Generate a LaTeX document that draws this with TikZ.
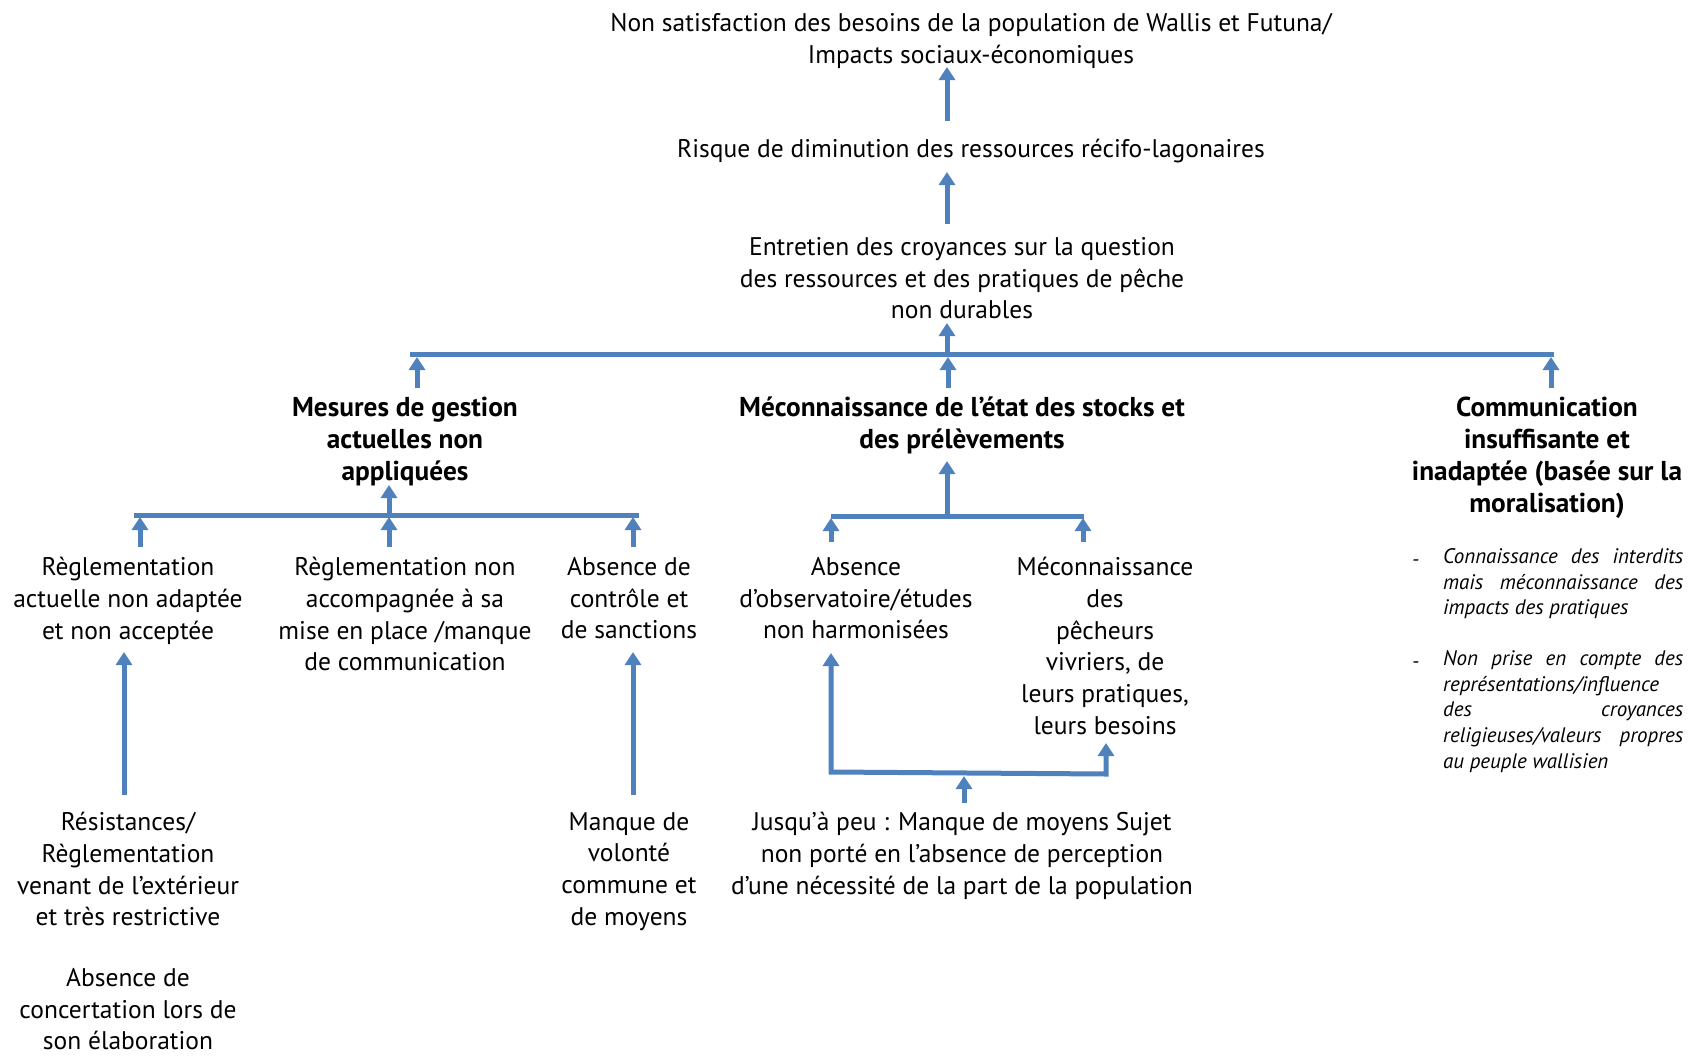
\documentclass[tikz,border=0pt]{standalone}
\usepackage{fontspec}
\setmainfont{PT Sans}
\usetikzlibrary{arrows.meta}
\definecolor{arrblue}{RGB}{79,129,189}
\tikzset{
  txt/.style={align=center, inner sep=0pt, anchor=north, font=\fontsize{25.5}{31.8}\selectfont, execute at begin node=\strut},
  btxt/.style={txt, font=\fontsize{27.3}{31.8}\selectfont\bfseries},
  itxt/.style={align=left, inner sep=0pt, anchor=north west, font=\fontsize{21}{25.9}\selectfont\itshape, execute at begin node=\strut},
  arr/.style={draw=arrblue, line width=5pt, -{Triangle[width=16pt,length=13pt]}},
  barline/.style={draw=arrblue, line width=5pt},
  dbl/.style={draw=arrblue, line width=5pt, {Triangle[width=16pt,length=13pt]}-{Triangle[width=16pt,length=13pt]}}
}
\newcommand{\jl}[1]{\makebox[240pt][s]{#1}}
\begin{document}
\begin{tikzpicture}[x=1pt,y=-1pt]
\useasboundingbox (0,0) rectangle (1689,1058);

% texts
\node[txt] (top) at (971,13) {Non satisfaction des besoins de la population de Wallis et Futuna/\\Impacts sociaux-économiques};
\node[txt] (risque) at (971,135) {Risque de diminution des ressources récifo-lagonaires};
\node[txt] (entretien) at (962,237) {Entretien des croyances sur la question\\des ressources et des pratiques de pêche\\non durables};
\node[btxt] (mesures) at (405,397) {Mesures de gestion\\actuelles non\\appliquées};
\node[btxt] (meconn) at (962,397) {Méconnaissance de l’état des stocks et\\des prélèvements};
\node[btxt] (comm) at (1547,397) {Communication\\insuffisante et\\inadaptée (basée sur la\\moralisation)};
\node[txt] (regl1) at (128,557) {Règlementation\\actuelle non adaptée\\et non acceptée};
\node[txt] (regl2) at (405,557) {Règlementation non\\accompagnée à sa\\mise en place /manque\\de communication};
\node[txt] (abscontrole) at (629,557) {Absence de\\contrôle et\\de sanctions};
\node[txt] (absobs) at (856,557) {Absence\\d’observatoire/études\\non harmonisées};
\node[txt] (mecpech) at (1105,557) {Méconnaissance\\des\\pêcheurs\\vivriers, de\\leurs pratiques,\\leurs besoins};
\node[txt] (resist) at (128,812) {Résistances/\\Règlementation\\venant de l’extérieur\\et très restrictive};
\node[txt] (concert) at (128,968) {Absence de\\concertation lors de\\son élaboration};
\node[txt] (manque) at (629,812) {Manque de\\volonté\\commune et\\de moyens};
\node[txt] (jusqua) at (962,812) {Jusqu’à peu : Manque de moyens Sujet\\non porté en l’absence de perception\\d’une nécessité de la part de la population};

\node[itxt] (dash1) at (1412,548) {-};
\node[itxt] (p1) at (1443,548) {\jl{Connaissance des interdits}\\\jl{mais méconnaissance des}\\impacts des pratiques};
\node[itxt] (dash2) at (1412,650) {-};
\node[itxt] (p2) at (1443,650) {\jl{Non prise en compte des}\\représentations/influence\\\jl{des croyances}\\\jl{religieuses/valeurs\ \ propres}\\au peuple wallisien};

% coordinates
\coordinate (a1s) at (947,121); \coordinate (a1e) at (947,67);
\coordinate (a2s) at (947,224); \coordinate (a2e) at (947,172);
\coordinate (a3s) at (947,354); \coordinate (a3e) at (947,323);
\coordinate (b1l) at (410,354); \coordinate (b1r) at (1554,354);
\coordinate (a4s) at (417,388); \coordinate (a4e) at (417,357);
\coordinate (a5s) at (948,388); \coordinate (a5e) at (948,357);
\coordinate (a6s) at (1551,388); \coordinate (a6e) at (1551,357);
\coordinate (a7s) at (389,515); \coordinate (a7e) at (389,485);
\coordinate (b2l) at (134,515); \coordinate (b2r) at (639,515);
\coordinate (a8s) at (140,547); \coordinate (a8e) at (140,517);
\coordinate (a9s) at (389,547); \coordinate (a9e) at (389,517);
\coordinate (a10s) at (633,547); \coordinate (a10e) at (633,517);
\coordinate (a11s) at (947,516); \coordinate (a11e) at (947,461);
\coordinate (b3l) at (831,516); \coordinate (b3r) at (1084,516);
\coordinate (a12s) at (831,542); \coordinate (a12e) at (831,518);
\coordinate (a13s) at (1083,542); \coordinate (a13e) at (1083,518);
\coordinate (a14s) at (124,795); \coordinate (a14e) at (124,652);
\coordinate (a15s) at (633,795); \coordinate (a15e) at (633,652);
\coordinate (brl) at (831,772); \coordinate (brr) at (1106,774);
\coordinate (brlt) at (831,653); \coordinate (brrt) at (1106,743);
\coordinate (a16s) at (964,803); \coordinate (a16e) at (964,776);

% connectors
\draw[arr] (a1s) -- (a1e);
\draw[arr] (a2s) -- (a2e);
\draw[arr] (a3s) -- (a3e);
\draw[barline] (b1l) -- (b1r);
\draw[arr] (a4s) -- (a4e);
\draw[arr] (a5s) -- (a5e);
\draw[arr] (a6s) -- (a6e);
\draw[arr] (a7s) -- (a7e);
\draw[barline] (b2l) -- (b2r);
\draw[arr] (a8s) -- (a8e);
\draw[arr] (a9s) -- (a9e);
\draw[arr] (a10s) -- (a10e);
\draw[arr] (a11s) -- (a11e);
\draw[barline] (b3l) -- (b3r);
\draw[arr] (a12s) -- (a12e);
\draw[arr] (a13s) -- (a13e);
\draw[arr] (a14s) -- (a14e);
\draw[arr] (a15s) -- (a15e);
\draw[dbl] (brlt) -- (brl) -- (brr) -- (brrt);
\draw[arr] (a16s) -- (a16e);
\end{tikzpicture}
\end{document}
